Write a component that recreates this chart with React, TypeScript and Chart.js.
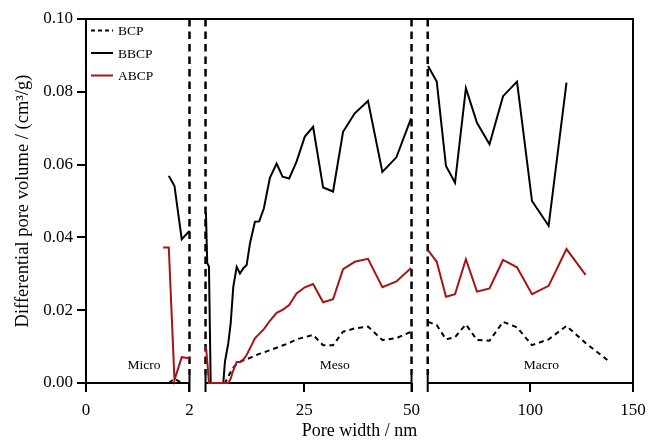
import React, { useEffect, useRef } from 'react';
import { Chart, registerables, LinearScale } from 'chart.js';

// ---------- data ----------
const X_TICKS = [0, 2, 25, 50, 100, 150];
const Y_MIN = 0;
const Y_MAX = 0.1;
const Y_STEP = 0.02;

const SERIES_NAMES = ['BCP', 'BBCP', 'ABCP'];

// Micro region (pore width, nm)
const MICRO_WIDTH = [1.49, 1.6, 1.71, 1.85, 2.0];
const BCP_MICRO = [null, 0.0, 0.0012, 0.0, 0.0];
const BBCP_MICRO = [null, 0.0569, 0.0541, 0.0395, 0.0418];
const ABCP_MICRO = [0.0372, 0.0372, 0.0008, 0.0071, 0.0068];

// Meso region
const MESO_WIDTH = [2.1, 2.4, 2.8, 3.2, 6.14, 6.53, 7.3, 7.86, 8.47, 9.26, 10.02, 10.79, 11.58, 12.35, 13.51, 14.51, 15.6, 17.0, 18.56, 19.95, 21.49, 23.21, 25.14, 27.07, 29.4, 31.72, 34.05, 36.77, 39.86, 43.21, 46.47, 49.9];
const BCP_MESO = [0, 0, 0, 0, 0, 0, 0.0018, 0.003, 0.0042, 0.0052, 0.0058, 0.0062, 0.0065, 0.0069, 0.0075, 0.008, 0.0084, 0.009, 0.0097, 0.0103, 0.011, 0.012, 0.0126, 0.0132, 0.0104, 0.0104, 0.0141, 0.015, 0.0155, 0.0118, 0.0123, 0.0141];
const BBCP_MESO = [0.0467, 0.0329, 0.032, 0, 0, 0.0059, 0.0109, 0.0164, 0.0264, 0.0319, 0.0301, 0.0315, 0.0324, 0.0383, 0.0443, 0.0444, 0.048, 0.0564, 0.0603, 0.0567, 0.0562, 0.0608, 0.0677, 0.0704, 0.0537, 0.0526, 0.069, 0.0741, 0.0775, 0.058, 0.062, 0.0727];
const ABCP_MESO = [0.01, 0.006, 0, 0, 0, 0, 0, 0.0012, 0.0035, 0.0058, 0.0058, 0.0064, 0.0077, 0.0095, 0.0123, 0.0135, 0.0148, 0.0171, 0.0193, 0.0201, 0.0214, 0.0246, 0.0263, 0.0272, 0.0222, 0.023, 0.0313, 0.0333, 0.0341, 0.0263, 0.0279, 0.0316];

// Macro region
const MACRO_WIDTH = [50.15, 54.4, 58.9, 63.3, 68.6, 74.0, 80.1, 86.7, 93.5, 100.8, 108.9, 117.6, 126.9, 137.5];
const BCP_MACRO = [0.0168, 0.0159, 0.012, 0.0126, 0.0161, 0.0118, 0.0116, 0.0168, 0.0153, 0.0104, 0.012, 0.0157, 0.011, 0.0063];
const BBCP_MACRO = [0.0871, 0.0828, 0.0596, 0.055, 0.081, 0.0715, 0.0656, 0.0788, 0.0828, 0.05, 0.0432, 0.0825, null, null];
const ABCP_MACRO = [0.0365, 0.0333, 0.0237, 0.0244, 0.034, 0.0251, 0.026, 0.0338, 0.0318, 0.0244, 0.0267, 0.0368, 0.0297, null];

const REGION_LABELS = ['Micro', 'Meso', 'Macro'];
const REGION_X = [1.12, 32.1, 105.4];
const REGION_Y = 0.0048;

// ---------- broken x axis definition ----------
const AXIS_SEGMENTS = [
  { from: 0, to: 2, start: 0, end: 0.1892 },
  { from: 2, to: 50, start: 0.2185, end: 0.5951 },
  { from: 50, to: 150, start: 0.6247, end: 1 },
];

function valueToDecimal(v: number): number {
  for (let i = 0; i < AXIS_SEGMENTS.length; i++) {
    const s = AXIS_SEGMENTS[i];
    if (v <= s.to || i === AXIS_SEGMENTS.length - 1) {
      return s.start + ((v - s.from) / (s.to - s.from)) * (s.end - s.start);
    }
  }
  return 1;
}
function decimalToValue(d: number): number {
  for (let i = 0; i < AXIS_SEGMENTS.length; i++) {
    const s = AXIS_SEGMENTS[i];
    if (d <= s.end || i === AXIS_SEGMENTS.length - 1) {
      return s.from + ((d - s.start) / (s.end - s.start)) * (s.to - s.from);
    }
  }
  return 150;
}

class BrokenScale extends LinearScale {
  static id = 'broken';
  getPixelForValue(value: any) {
    if (value === null || value === undefined || isNaN(value)) return NaN;
    return this.getPixelForDecimal(valueToDecimal(+value));
  }
  getValueForPixel(pixel: number) {
    return decimalToValue(this.getDecimalForPixel(pixel));
  }
}

Chart.register(...registerables, BrokenScale as any);

const FONT = "'Liberation Serif', 'Times New Roman', serif";
const RED = '#A51515';

function pts(xs: number[], ys: (number | null)[]) {
  return xs.map((x, i) => ({ x, y: ys[i] }));
}
function join(micro: any[], meso: any[], macro: any[]) {
  return [...micro, { x: 2, y: null }, ...meso, { x: 50, y: null }, ...macro];
}

const STYLES = [
  { color: '#000', dash: [5, 4], legendDash: [4, 3] },
  { color: '#000', dash: [], legendDash: [] },
  { color: RED, dash: [], legendDash: [] },
];

const framePlugin = {
  id: 'brokenFrame',
  beforeDatasetsDraw(chart: any) {
    const { ctx, chartArea } = chart;
    const { left, right, top, bottom } = chartArea;
    const xs = chart.scales.x;
    ctx.save();
    ctx.strokeStyle = '#000';
    ctx.lineWidth = 2;
    ctx.beginPath();
    ctx.moveTo(left, bottom);
    ctx.lineTo(left, top);
    ctx.lineTo(right, top);
    ctx.lineTo(right, bottom);
    ctx.stroke();
    AXIS_SEGMENTS.forEach((s) => {
      ctx.beginPath();
      ctx.moveTo(xs.getPixelForDecimal(s.start), bottom);
      ctx.lineTo(xs.getPixelForDecimal(s.end), bottom);
      ctx.stroke();
    });
    const breaks: number[] = [];
    AXIS_SEGMENTS.forEach((s, i) => {
      if (i > 0) breaks.push(xs.getPixelForDecimal(s.start));
      if (i < AXIS_SEGMENTS.length - 1) breaks.push(xs.getPixelForDecimal(s.end));
    });
    breaks.forEach((x) => {
      ctx.beginPath();
      ctx.moveTo(x, bottom - 8);
      ctx.lineTo(x, bottom + 9);
      ctx.stroke();
    });
    ctx.lineWidth = 2.5;
    ctx.setLineDash([7.5, 5]);
    breaks.forEach((x) => {
      ctx.beginPath();
      ctx.moveTo(x, top);
      ctx.lineTo(x, bottom - 8);
      ctx.stroke();
    });
    ctx.restore();
  },
  afterDraw(chart: any) {
    const { ctx, chartArea } = chart;
    const { left, top } = chartArea;
    const xs = chart.scales.x;
    const ys = chart.scales.y;
    ctx.save();
    ctx.font = `13.5px ${FONT}`;
    ctx.textBaseline = 'middle';
    ctx.fillStyle = '#000';
    SERIES_NAMES.forEach((name, i) => {
      const y = top + 11.5 + i * 22.5;
      ctx.strokeStyle = STYLES[i].color;
      ctx.lineWidth = 2;
      ctx.setLineDash(STYLES[i].legendDash);
      ctx.beginPath();
      ctx.moveTo(left + 5, y);
      ctx.lineTo(left + 27, y);
      ctx.stroke();
      ctx.setLineDash([]);
      ctx.textAlign = 'left';
      ctx.fillText(name, left + 32, y + 1);
    });
    ctx.textAlign = 'center';
    REGION_LABELS.forEach((label, i) => {
      ctx.fillText(label, xs.getPixelForValue(REGION_X[i]), ys.getPixelForValue(REGION_Y));
    });
    ctx.restore();
  },
};

export default function App() {
  const ref = useRef<HTMLCanvasElement | null>(null);
  useEffect(() => {
    if (!ref.current) return;
    Chart.defaults.font.family = FONT;
    Chart.defaults.color = '#000';
    const seriesData = [
      join(pts(MICRO_WIDTH, BCP_MICRO), pts(MESO_WIDTH, BCP_MESO), pts(MACRO_WIDTH, BCP_MACRO)),
      join(pts(MICRO_WIDTH, BBCP_MICRO), pts(MESO_WIDTH, BBCP_MESO), pts(MACRO_WIDTH, BBCP_MACRO)),
      join(pts(MICRO_WIDTH, ABCP_MICRO), pts(MESO_WIDTH, ABCP_MESO), pts(MACRO_WIDTH, ABCP_MACRO)),
    ];
    const chart = new Chart(ref.current, {
      type: 'line',
      data: {
        datasets: SERIES_NAMES.map((name, i) => ({
          label: name,
          data: seriesData[i] as any,
          borderColor: STYLES[i].color,
          backgroundColor: STYLES[i].color,
          borderDash: STYLES[i].dash,
          borderWidth: 2,
          pointRadius: 0,
          tension: 0,
          spanGaps: false,
          clip: false as any,
          order: 2 - i,
        })),
      },
      options: {
        responsive: false,
        animation: false,
        events: [],
        layout: { padding: { left: 0, right: 18, top: 19, bottom: 0 } },
        plugins: { legend: { display: false }, tooltip: { enabled: false } },
        scales: {
          x: {
            type: 'broken' as any,
            min: 0,
            max: 150,
            afterBuildTicks: (axis: any) => {
              axis.ticks = X_TICKS.map((v) => ({ value: v }));
            },
            afterFit: (axis: any) => {
              axis.height = 59;
              axis.paddingLeft = 0;
              axis.paddingRight = 0;
            },
            ticks: {
              autoSkip: false,
              maxRotation: 0,
              padding: 8,
              font: { size: 17, family: FONT },
              color: '#000',
              callback: (v: any) => String(v),
            },
            grid: { display: true, drawOnChartArea: false, drawTicks: true, tickLength: 9, color: '#000', lineWidth: 2 },
            border: { display: false },
            title: {
              display: true,
              text: 'Pore width / nm',
              font: { size: 18, family: FONT },
              color: '#000',
              padding: { top: 0, bottom: 0 },
            },
          },
          y: {
            type: 'linear',
            min: Y_MIN,
            max: Y_MAX,
            afterFit: (axis: any) => {
              axis.width = 86;
              axis.paddingTop = 0;
              axis.paddingBottom = 0;
            },
            ticks: {
              stepSize: Y_STEP,
              padding: 4,
              font: { size: 17, family: FONT },
              color: '#000',
              callback: (v: any) => Number(v).toFixed(2),
            },
            grid: { display: true, drawOnChartArea: false, drawTicks: true, tickLength: 9, color: '#000', lineWidth: 2 },
            border: { display: false },
            title: {
              display: true,
              text: 'Differential pore volume / (cm³/g)',
              font: { size: 18.5, family: FONT },
              color: '#000',
              padding: { top: 12, bottom: 0 },
            },
          },
        },
      },
      plugins: [framePlugin],
    } as any);
    return () => chart.destroy();
  }, []);
  return (
    <div style={{ position: 'absolute', left: 0, top: 0, width: 651, height: 442, background: '#fff' }}>
      <canvas ref={ref} width={651} height={442} style={{ display: 'block' }} />
    </div>
  );
}
